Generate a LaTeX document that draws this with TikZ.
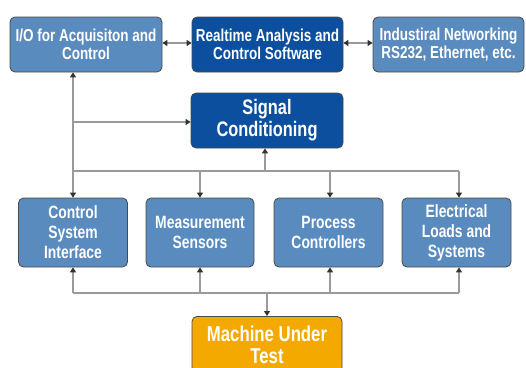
\documentclass[tikz,border=0pt]{standalone}
\usepackage{fontspec}
\setmainfont{Liberation Sans}[FakeStretch=0.78]
\usetikzlibrary{arrows.meta}
\definecolor{lblue}{HTML}{5A8BBE}
\definecolor{dblue}{HTML}{0B4F9E}
\definecolor{orng}{HTML}{F4A900}
\definecolor{edge}{HTML}{4A4A4A}
\definecolor{wire}{HTML}{9A9A9A}
\definecolor{tipc}{HTML}{333333}
\tikzset{
  box/.style={draw=edge, line width=0.8pt, rounded corners=5pt, text=white,
    font=\bfseries\fontsize{17.3}{18.5}\selectfont, align=center, inner sep=1pt},
  lbox/.style={box, fill=lblue},
  dbox/.style={box, fill=dblue},
  obox/.style={box, fill=orng, font=\bfseries\fontsize{21.5}{22}\selectfont},
  rowbox/.style={lbox, minimum width=109pt, minimum height=69pt, font=\bfseries\fontsize{17.8}{20}\selectfont},
  wirel/.style={draw=wire, line width=1.3pt},
  arr/.style={wirel, -{Triangle[width=6pt,length=5pt,color=tipc]}},
  darr/.style={wirel, {Triangle[width=6pt,length=5pt,color=tipc]}-{Triangle[width=6pt,length=5pt,color=tipc]}}
}
\begin{document}
\begin{tikzpicture}[x=1pt,y=-1pt]
\useasboundingbox (0,0) rectangle (526,367);
\clip (0,0) rectangle (526,367);
% top row
\node[lbox, minimum width=152pt, minimum height=55pt] (io) at (86,44.5) {I/O for Acquisiton and\\Control};
\node[dbox, minimum width=151pt, minimum height=55pt] (rt) at (267.5,44.5) {Realtime Analysis and\\Control Software};
\node[lbox, minimum width=151pt, minimum height=55pt] (net) at (448.5,44.5) {Industiral Networking\\RS232, Ethernet, etc.};
% signal conditioning
\node[dbox, minimum width=152pt, minimum height=55pt, font=\bfseries\fontsize{21}{22}\selectfont] (sc) at (267,120.5) {Signal\\Conditioning};
% second row
\node[rowbox] (csi) at (73,232.5) {Control\\System\\Interface};
\node[rowbox, minimum width=108pt] (ms) at (200,232.5) {Measurement\\Sensors};
\node[rowbox] (pc) at (328.5,232.5) {Process\\Controllers};
\node[rowbox] (el) at (456.5,232.5) {Electrical\\Loads and\\Systems};
% machine
\node[obox, minimum width=150pt, minimum height=56pt, anchor=north] (mut) at (267,316) {Machine Under\\Test};
% coordinates
\coordinate (bl) at (73,171);
\coordinate (br) at (459,171);
\coordinate (bm) at (265,171);
\coordinate (lb) at (73,293);
\coordinate (lr) at (459,293);
\coordinate (lm) at (267,293);
\coordinate (tap) at (73,122);
% connectors top
\draw[darr] (io.east |- 0,43) -- (rt.west |- 0,43);
\draw[darr] (rt.east |- 0,43) -- (net.west |- 0,43);
% left vertical and upper bus
\draw[arr] (bl) -- (io.south -| bl);
\draw[arr] (tap) -- (sc.west |- tap);
\draw[wirel] (bl) -- (br);
\draw[arr] (bm) -- (sc.south -| bm);
\draw[arr] (bl) -- (csi.north -| bl);
\draw[arr] (ms.north |- bl) -- (ms.north);
\draw[arr] (330,171) -- (pc.north -| 330,0);
\draw[arr] (br) -- (el.north -| br);
% lower bus
\draw[wirel] (lb) -- (lr);
\draw[arr] (lb) -- (csi.south -| lb);
\draw[arr] (ms.south |- lb) -- (ms.south);
\draw[arr] (330,293) -- (pc.south -| 330,0);
\draw[arr] (lr) -- (el.south -| lr);
\draw[arr] (lm) -- (mut.north);
\end{tikzpicture}
\end{document}
